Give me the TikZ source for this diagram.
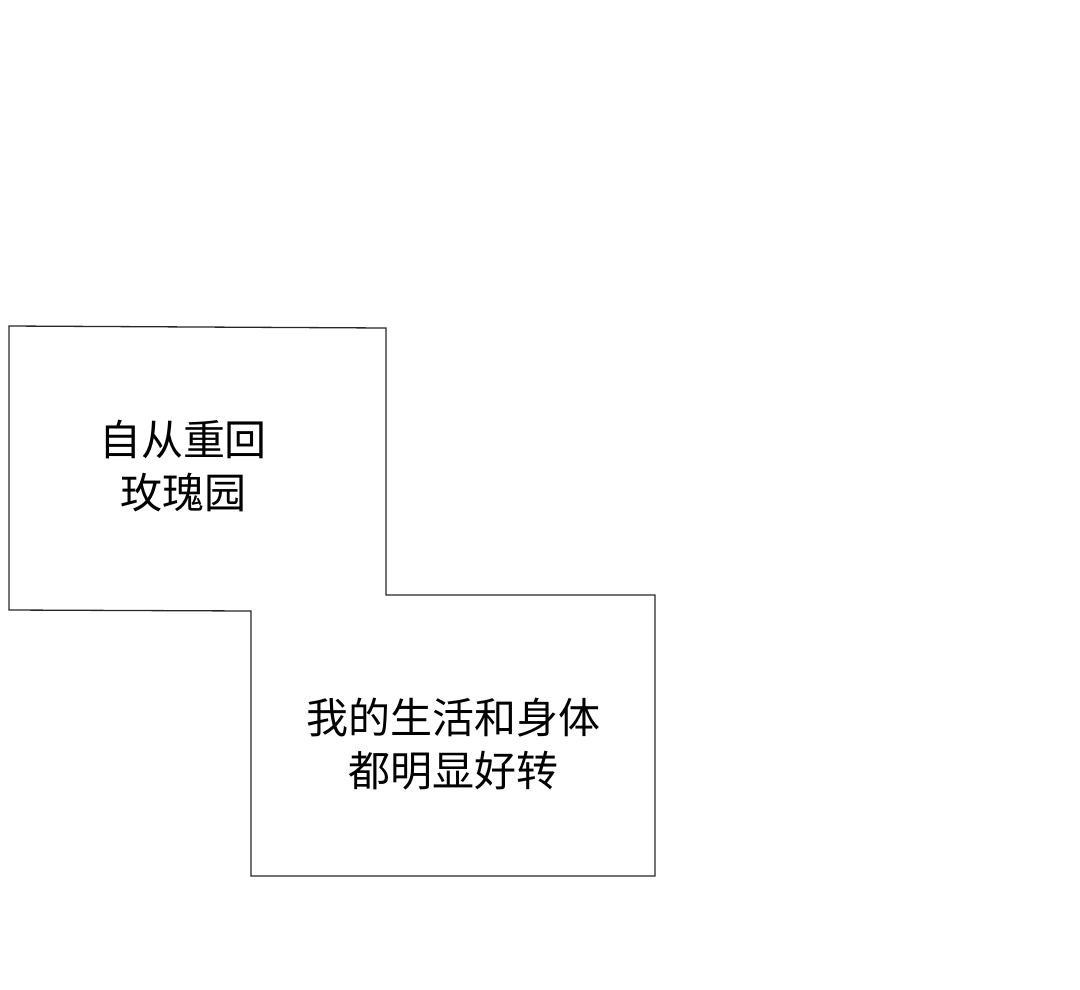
\documentclass[tikz,border=0pt]{standalone}
\usepackage{fontspec}
\newfontfamily\cjk{Noto Sans CJK SC}
\begin{document}
\begin{tikzpicture}[x=1pt,y=-1pt,
  txt/.style={font=\cjk\fontsize{42}{53}\selectfont,align=center,inner sep=0pt}]
\useasboundingbox (0,0) rectangle (1080,989);
\draw[line width=1.3pt,black!85] (9,326) -- (386,328) -- (386,595) -- (655,595) -- (655,876) -- (251,876) -- (251,611) -- (9,610) -- cycle;
\node[txt] (t1) at (183,466) {自从重回\\玫瑰园};
\node[txt] (t2) at (453,744) {我的生活和身体\\都明显好转};
\end{tikzpicture}
\end{document}
